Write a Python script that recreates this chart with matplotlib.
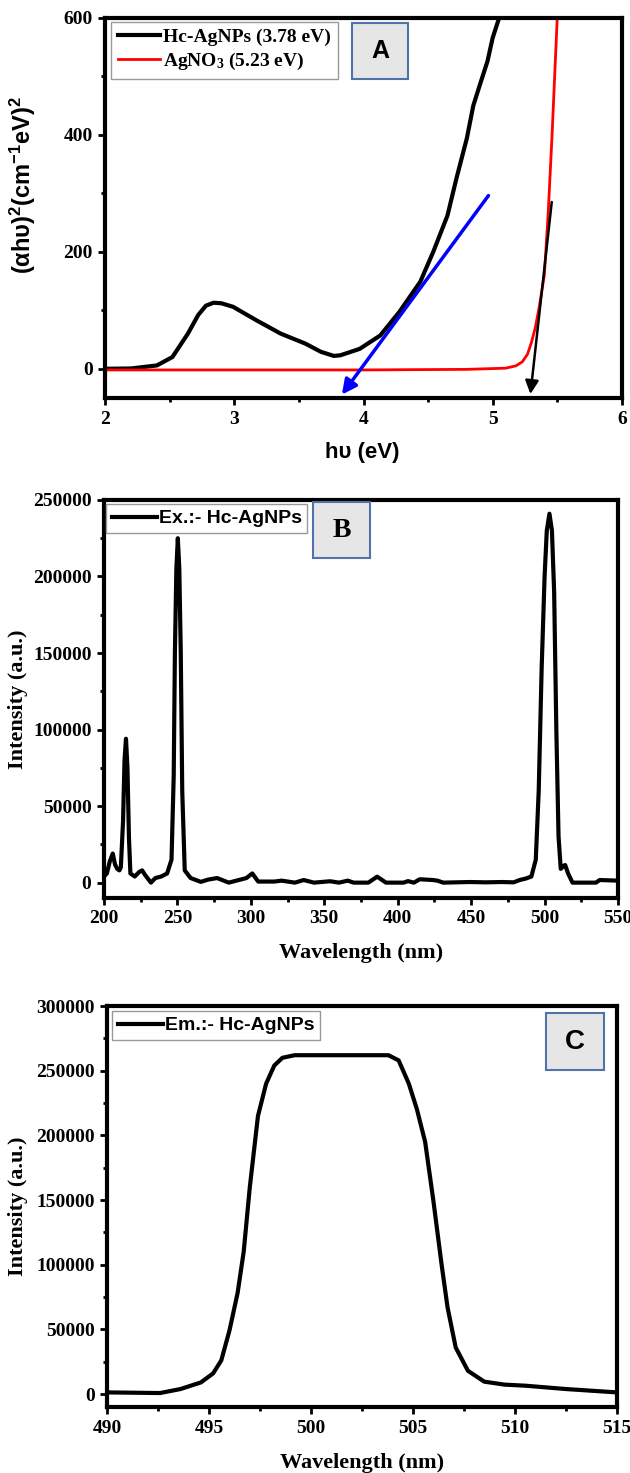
import numpy as np
import matplotlib.pyplot as plt
from matplotlib.patches import Rectangle
from matplotlib.ticker import MultipleLocator

# panel A - Tauc plot
hc_x = [2.0, 2.2, 2.40, 2.52, 2.64, 2.72, 2.78, 2.84, 2.90, 2.99, 3.17, 3.36, 3.55, 3.67, 3.77, 3.82,
        3.97, 4.13, 4.28, 4.44, 4.54, 4.65, 4.72, 4.80, 4.85, 4.90, 4.96, 5.00, 5.05]
hc_y = [0, 0.5, 5.7, 20, 60, 92, 108, 113, 112, 106, 83, 60, 43, 29, 22, 23,
        34, 57, 98, 149, 200, 262, 326, 394, 450, 485, 526, 566, 600]
ag_x = [2.0, 3.0, 4.0, 4.8, 5.10, 5.18, 5.23, 5.27, 5.30, 5.33, 5.36, 5.40, 5.43, 5.46, 5.50]
ag_y = [-2, -2, -2, -1, 1, 5, 12, 25, 45, 70, 105, 160, 266, 400, 600]
hc_label = 'Hc-AgNPs (3.78 eV)'
ag_label = r'AgNO$\mathregular{_3}$ (5.23 eV)'
blue_arrow = [(4.98, 300), (3.82, -48)]
black_arrow = [(5.46, 290), (5.29, -48)]

# panel B - excitation
ex_x = [200, 202, 204, 206, 207.5, 209, 210.5, 211.5, 213, 214, 215, 216, 217, 218, 221, 224, 226, 228,
        232, 235, 239, 243, 246, 247.5, 248.3, 249.3, 250.3, 251.3, 252.3, 253.3, 255, 259, 266, 271,
        277, 285, 293, 297, 301, 305, 316, 321, 330, 336, 343, 354, 360, 366, 370, 380, 386, 392, 404,
        407, 411, 415, 424, 427, 431, 449, 460, 471, 479, 483, 487, 491, 494, 496, 498, 500, 501.5,
        503.3, 505, 506.5, 508, 509.5, 511, 513, 514, 516, 519, 535, 537.5, 550]
ex_y = [4000, 6000, 14000, 19000, 12000, 9000, 8000, 10000, 40000, 80000, 94000, 75000, 30000, 6000,
        4000, 7000, 8000, 5000, 0, 3000, 4000, 6000, 15000, 70000, 150000, 205000, 225000, 205000,
        150000, 60000, 8000, 3000, 500, 2000, 3000, 0, 2000, 3000, 6000, 700, 700, 1300, 0, 1700, 0,
        900, 0, 1300, 0, 0, 3900, 0, 0, 1000, 0, 2200, 1700, 1300, 0, 400, 200, 400, 200, 1700, 2600,
        4000, 15000, 60000, 140000, 200000, 230000, 241000, 230000, 190000, 100000, 30000, 9000,
        11000, 11500, 6000, 0, 0, 1700, 1300]

# panel C - emission
em_x = [490, 492.6, 493.6, 494.6, 495.2, 495.6, 496.0, 496.4, 496.7, 497.0, 497.4, 497.8, 498.2,
        498.6, 499.2, 503.8, 504.3, 504.8, 505.2, 505.6, 506.0, 506.4, 506.7, 507.1, 507.7, 508.5,
        509.5, 510.5, 512.5, 515]
em_y = [1300, 800, 3900, 9000, 16000, 26000, 49000, 78000, 110000, 160000, 215000, 240000, 254000,
        260000, 262000, 262000, 258000, 240000, 220000, 195000, 150000, 101000, 67000, 36000, 18000,
        9600, 7300, 6500, 3900, 1300]

serif = 'Liberation Serif'
sans = 'Liberation Sans'
plt.rcParams['axes.linewidth'] = 3


def style_axes(ax):
    ax.tick_params(which='both', top=False, right=False)
    ax.tick_params(which='major', direction='out', length=5, width=2, pad=4)
    ax.tick_params(which='minor', direction='out', length=3, width=2)
    for lab in ax.get_xticklabels() + ax.get_yticklabels():
        lab.set_fontfamily(serif)
        lab.set_fontweight('bold')
        lab.set_fontsize(14)


def tag_box(ax, x0, y0, w, h, txt, family, size):
    ax.add_patch(Rectangle((x0, y0), w, h, transform=ax.transAxes, facecolor='#e6e6e6',
                           edgecolor='#4f73a8', lw=1.5, zorder=5))
    ax.text(x0 + w / 2, y0 + h / 2, txt, transform=ax.transAxes, ha='center', va='center',
            fontsize=size, fontweight='bold', family=family, zorder=6)


def spectrum_legend(ax, anchor):
    leg = ax.legend(loc='upper left', bbox_to_anchor=anchor, borderaxespad=0,
                    prop=dict(family=sans, weight='bold', size=14), fancybox=False,
                    edgecolor='#999999', framealpha=1, handlelength=2.3, handletextpad=0.1,
                    borderpad=0.3)
    leg.get_frame().set_linewidth(1)


fig = plt.figure(figsize=(6.3, 14.73), dpi=100)

# ---- A
axA = fig.add_axes([0.167, 0.7298, 0.820, 0.258])
axA.plot(hc_x, hc_y, color='black', lw=3, label=hc_label)
axA.plot(ag_x, ag_y, color='red', lw=2, label=ag_label)
axA.annotate('', xy=blue_arrow[1], xytext=blue_arrow[0],
             arrowprops=dict(arrowstyle='-|>', color='blue', lw=2.5, mutation_scale=22))
axA.annotate('', xy=black_arrow[1], xytext=black_arrow[0],
             arrowprops=dict(arrowstyle='-|>', color='black', lw=1.8, mutation_scale=20))
axA.set_xlim(2, 6)
axA.set_ylim(-50, 600)
axA.xaxis.set_major_locator(MultipleLocator(1))
axA.xaxis.set_minor_locator(MultipleLocator(0.5))
axA.yaxis.set_major_locator(MultipleLocator(200))
axA.yaxis.set_minor_locator(MultipleLocator(100))
axA.set_xlabel('h\u03c5 (eV)', fontsize=16, fontweight='bold', family=sans)
axA.set_ylabel('(\u03b1h\u03c5)$\\mathregular{^2}$(cm$\\mathregular{^{-1}}$eV)$\\mathregular{^2}$',
               fontsize=17, fontweight='bold', family=sans)
axA.xaxis.set_label_coords(0.497, -0.116)
axA.yaxis.set_label_coords(-0.13, 0.56)
style_axes(axA)
legA = axA.legend(loc='upper left', bbox_to_anchor=(0.011, 0.99), borderaxespad=0,
                  prop=dict(family=serif, weight='bold', size=14), fancybox=False,
                  edgecolor='#999999', framealpha=1, handlelength=2.2, handletextpad=0.15,
                  borderpad=0.35, labelspacing=0.25)
legA.get_frame().set_linewidth(1)
tag_box(axA, 0.478, 0.839, 0.108, 0.148, 'A', sans, 18)

# ---- B
axB = fig.add_axes([0.165, 0.3904, 0.816, 0.2702])
axB.plot(ex_x, ex_y, color='black', lw=3, label='Ex.:- Hc-AgNPs')
axB.set_xlim(200, 550)
axB.set_ylim(-10000, 250000)
axB.xaxis.set_major_locator(MultipleLocator(50))
axB.xaxis.set_minor_locator(MultipleLocator(25))
axB.yaxis.set_major_locator(MultipleLocator(50000))
axB.yaxis.set_minor_locator(MultipleLocator(25000))
axB.set_xlabel('Wavelength (nm)', fontsize=16, fontweight='bold', family=serif)
axB.set_ylabel('Intensity (a.u.)', fontsize=16, fontweight='bold', family=serif)
axB.xaxis.set_label_coords(0.5, -0.114)
axB.yaxis.set_label_coords(-0.148, 0.5)
style_axes(axB)
spectrum_legend(axB, (0.004, 0.99))
tag_box(axB, 0.407, 0.853, 0.111, 0.142, 'B', serif, 20)

# ---- C
axC = fig.add_axes([0.170, 0.0448, 0.809, 0.2722])
axC.plot(em_x, em_y, color='black', lw=3, label='Em.:- Hc-AgNPs')
axC.set_xlim(490, 515)
axC.set_ylim(-10000, 300000)
axC.xaxis.set_major_locator(MultipleLocator(5))
axC.xaxis.set_minor_locator(MultipleLocator(2.5))
axC.yaxis.set_major_locator(MultipleLocator(50000))
axC.yaxis.set_minor_locator(MultipleLocator(25000))
axC.set_xlabel('Wavelength (nm)', fontsize=16, fontweight='bold', family=serif)
axC.set_ylabel('Intensity (a.u.)', fontsize=16, fontweight='bold', family=serif)
axC.xaxis.set_label_coords(0.5, -0.115)
axC.yaxis.set_label_coords(-0.155, 0.5)
style_axes(axC)
spectrum_legend(axC, (0.01, 0.988))
tag_box(axC, 0.861, 0.840, 0.114, 0.143, 'C', sans, 20)

fig.savefig('out.png', dpi=100)
